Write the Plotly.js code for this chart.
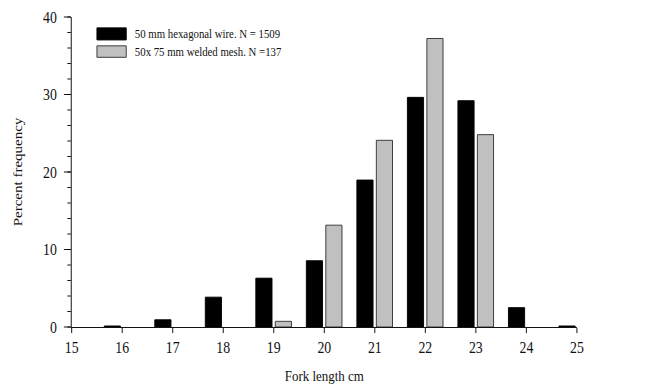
<!DOCTYPE html>
<html>
<head>
<meta charset="utf-8">
<script src="https://cdn.plot.ly/plotly-3.0.1.min.js"></script>
<style>
html,body{margin:0;padding:0;background:#fff;overflow:hidden;width:665px;height:390px;}
#chart{width:770px;height:390px;transform:scaleX(0.863636);transform-origin:0 0;}
</style>
</head>
<body>
<div id="chart"></div>
<script>
// Fork length classes (cm)
var lengthClasses = [16, 17, 18, 19, 20, 21, 22, 23, 24, 25];
// Percent frequency, 50 mm hexagonal wire (N = 1509)
var hexagonalPct = [0.13, 0.93, 3.85, 6.3, 8.55, 18.96, 29.63, 29.2, 2.5, 0.13];
// Percent frequency, 50x75 mm welded mesh (N = 137)
var weldedClasses = [19, 20, 21, 22, 23];
var weldedPct = [0.73, 13.14, 24.09, 37.23, 24.82];
var seriesNames = ["50 mm hexagonal wire. N = 1509", "50x 75 mm welded mesh. N =137"];
var xTicks = [15, 16, 17, 18, 19, 20, 21, 22, 23, 24, 25];
var yTicks = [0, 10, 20, 30, 40];

var serif = "Liberation Serif, Times New Roman, serif";

var traces = [
  {type: "bar", name: seriesNames[0], x: lengthClasses, y: hexagonalPct,
   width: 0.32, offset: -0.355,
   marker: {color: "#000000", line: {color: "#000000", width: 1}}, showlegend: false, hoverinfo: "x+y"},
  {type: "bar", name: seriesNames[1], x: weldedClasses, y: weldedPct,
   width: 0.32, offset: 0.03,
   marker: {color: "#c0c0c0", line: {color: "#333333", width: 1}}, showlegend: false, hoverinfo: "x+y"}
];

var layout = {
  width: 770, height: 390,
  margin: {l: 83, r: 102, t: 17, b: 63, pad: 0},
  paper_bgcolor: "#fff", plot_bgcolor: "#fff",
  barmode: "overlay",
  font: {family: serif, color: "#000", size: 15},
  xaxis: {
    range: [15, 25], tickvals: xTicks, ticktext: xTicks.map(String),
    showgrid: false, zeroline: false, showline: true, linecolor: "#000", linewidth: 1,
    ticks: "outside", ticklen: 5, tickcolor: "#000", tickwidth: 1,
    ticklabelstandoff: 1,
    tickfont: {family: serif, size: 16, color: "#111"},
    automargin: false,
    title: {text: "Fork length cm", font: {family: serif, size: 15, color: "#111"}, standoff: 15}
  },
  yaxis: {
    range: [0, 40], tickvals: yTicks, ticktext: yTicks.map(String),
    showgrid: false, zeroline: false, showline: true, linecolor: "#000", linewidth: 1,
    ticks: "outside", ticklen: 8, tickcolor: "#000", tickwidth: 1,
    ticklabelstandoff: 5,
    minor: {dtick: 2, ticks: "outside", ticklen: 4, tickcolor: "#000", showgrid: false},
    tickfont: {family: serif, size: 16, color: "#111"},
    automargin: false,
    title: {text: "Percent frequency", font: {family: serif, size: 15, color: "#111"}, standoff: 19}
  },
  shapes: [
    {type: "rect", xref: "paper", yref: "paper", x0: 0.05, x1: 0.108, y0: 0.926, y1: 0.965,
     fillcolor: "#000", line: {color: "#000", width: 1}},
    {type: "rect", xref: "paper", yref: "paper", x0: 0.05, x1: 0.108, y0: 0.870, y1: 0.907,
     fillcolor: "#c0c0c0", line: {color: "#333333", width: 1}}
  ],
  annotations: [
    {xref: "paper", yref: "paper", x: 0.121, y: 0.9452, xanchor: "left", yanchor: "middle",
     text: seriesNames[0], showarrow: false, font: {family: serif, size: 12.5, color: "#111"}},
    {xref: "paper", yref: "paper", x: 0.121, y: 0.8887, xanchor: "left", yanchor: "middle",
     text: seriesNames[1], showarrow: false, font: {family: serif, size: 12.5, color: "#111"}}
  ]
};

Plotly.newPlot("chart", traces, layout, {displayModeBar: false, staticPlot: true});
</script>
</body>
</html>
